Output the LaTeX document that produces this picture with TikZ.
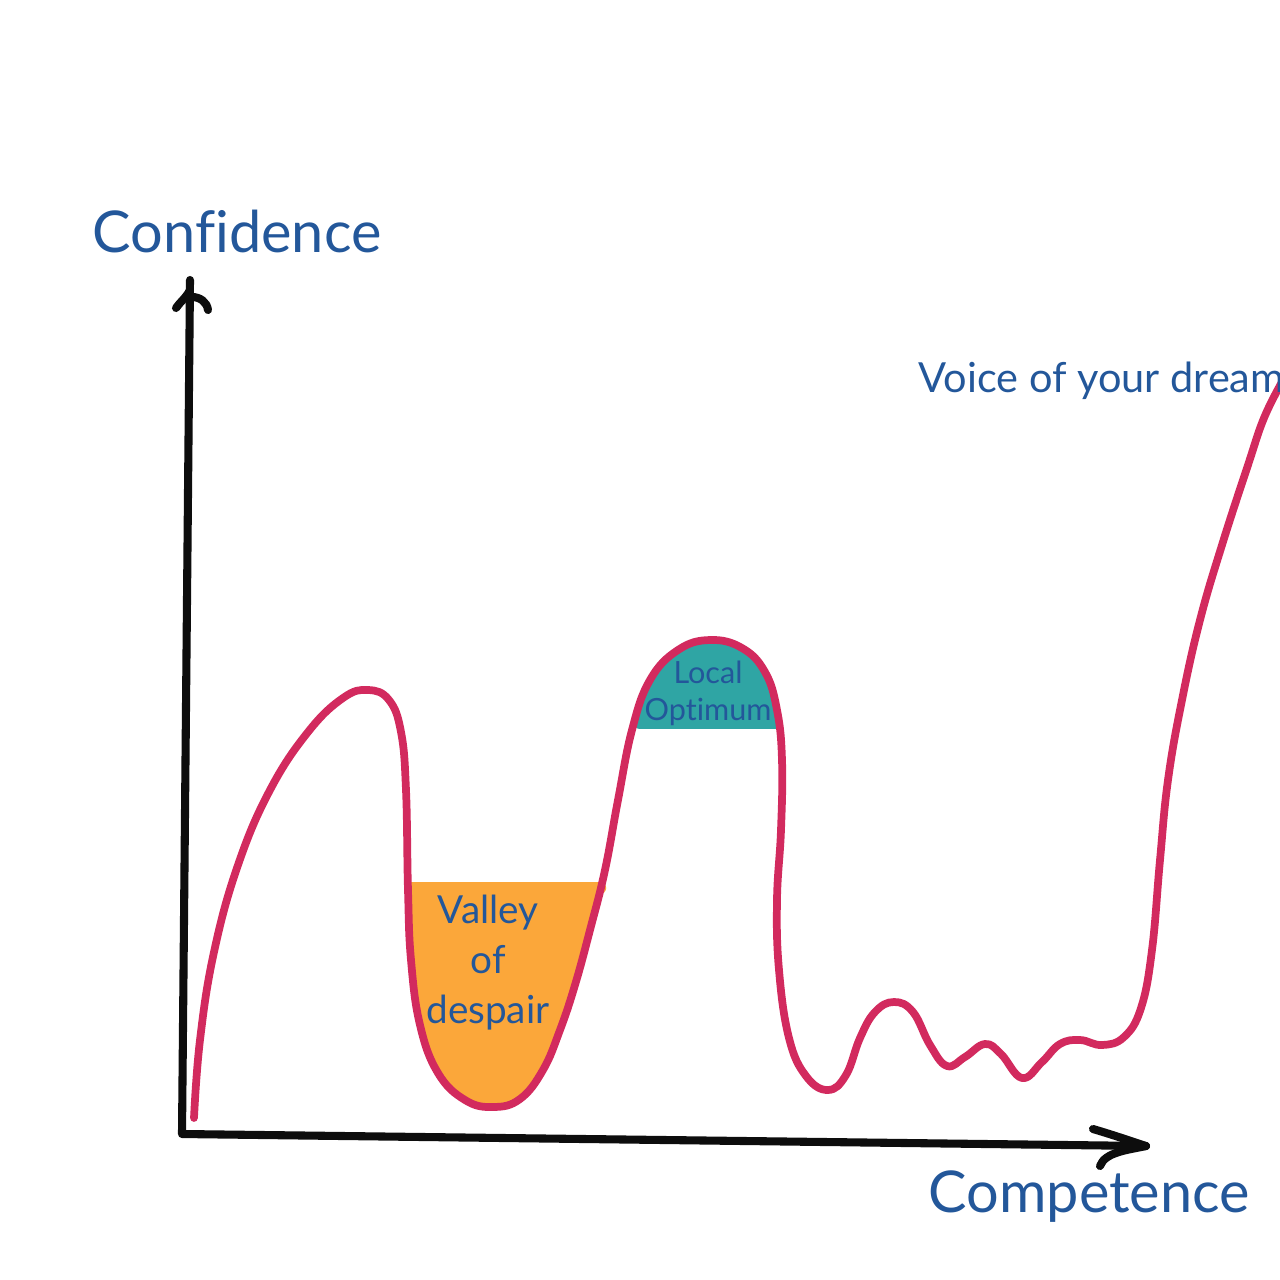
\documentclass[tikz,border=0pt]{standalone}
\usepackage{fontspec}
\setmainfont{Lato}[Ligatures=NoCommon]
\usetikzlibrary{positioning,calc}
\definecolor{curvered}{HTML}{D22A5E}
\definecolor{despair}{HTML}{FBA73A}
\definecolor{optimum}{HTML}{2FA5A4}
\definecolor{textblue}{HTML}{23579A}

\begin{document}
\begin{tikzpicture}[x=0.1mm, y=-0.1mm,
    axis/.style={line width=2.3pt, line cap=round, line join=round, black!95},
    curve/.style={line width=2.2pt, curvered, line cap=round, line join=round},
    label/.style={text=textblue, inner sep=0pt, align=center}]

    \useasboundingbox (0,0) rectangle (1280,1280);

    % Axis end points
    \coordinate (O) at (182,1134);
    \coordinate (Ytop) at (190,280);
    \coordinate (Xend) at (1146,1146);

    % Filled regions under the curve
    \fill[despair] plot[smooth, tension=0.6] coordinates {(408,888) (411,960) (420,1025) (438,1073) (465,1100) (493,1107) (520,1099) (543,1070) (560,1030) (575,985) (590,930) (601,888)} -- cycle;
    \draw[despair, line width=3.5pt, line cap=round] (411,888) -- (600,888);
    \fill[optimum] plot[smooth, tension=0.6] coordinates {(636,724) (650,680) (678,650) (710,640) (742,648) (765,672) (777,710) (779,724)} -- cycle;
    \draw[optimum, line width=3.5pt, line cap=round] (640,723) -- (775,723);

    % Axes
    \begin{scope}[axis]
        \draw (Ytop) -- (O) -- (Xend);
        % hand drawn arrow heads
        \draw (190,290) .. controls (186,298) and (180,302) .. (176,308);
        \draw (192,297) .. controls (200,297) and (207,302) .. (208,310);
        \draw (1093,1129) .. controls (1110,1134) and (1128,1140) .. (Xend);
        \draw (Xend) .. controls (1128,1150) and (1105,1152) .. (1100,1166);
    \end{scope}

    % The confidence curve
    \draw[curve] plot[smooth, tension=0.7] coordinates {
        (194,1118) (200,1040) (214,952) (238,865) (270,790) (308,732)
        (343,698) (368,690) (389,700) (401,732) (406,790) (408,890)
        (411,960) (420,1025) (438,1073) (465,1100) (493,1107) (520,1099) (543,1070)
        (560,1030) (575,985) (590,930) (605,870) (618,800) (632,730) (650,680)
        (678,650) (710,640) (742,648) (765,672) (777,710) (782,760) (781,830)
        (777,900) (779,970) (789,1038) (806,1076) (828,1090) (846,1075) (860,1038)
        (875,1012) (894,1002) (913,1012) (930,1045) (947,1066) (965,1057) (985,1044)
        (1001,1054) (1022,1078) (1042,1062) (1060,1044) (1080,1040)
        (1102,1045) (1124,1037) (1141,1008) (1152,950) (1160,860) (1168,780)
        (1182,700) (1200,620) (1222,545) (1248,465) (1264,418) (1282,382)};

    % Labels
    \node[label, anchor=base west, font=\fontsize{16.4}{18}\selectfont] (conf) at (92,252) {Confidence};
    \node[label, anchor=base west, font=\fontsize{16.4}{18}\selectfont] (comp) at (928,1212) {Competence};
    \node[label, anchor=base west, font=\fontsize{11.8}{14}\selectfont] (dream) at (918,392) {Voice of your dream};
    \node[label, anchor=north, font=\fontsize{11}{14.2}\selectfont] (valley) at (488,894) {Valley\\of\\despair};
    \node[label, anchor=north, font=\fontsize{8.7}{10.5}\selectfont] (local) at (708,660) {Local\\Optimum};
\end{tikzpicture}
\end{document}
